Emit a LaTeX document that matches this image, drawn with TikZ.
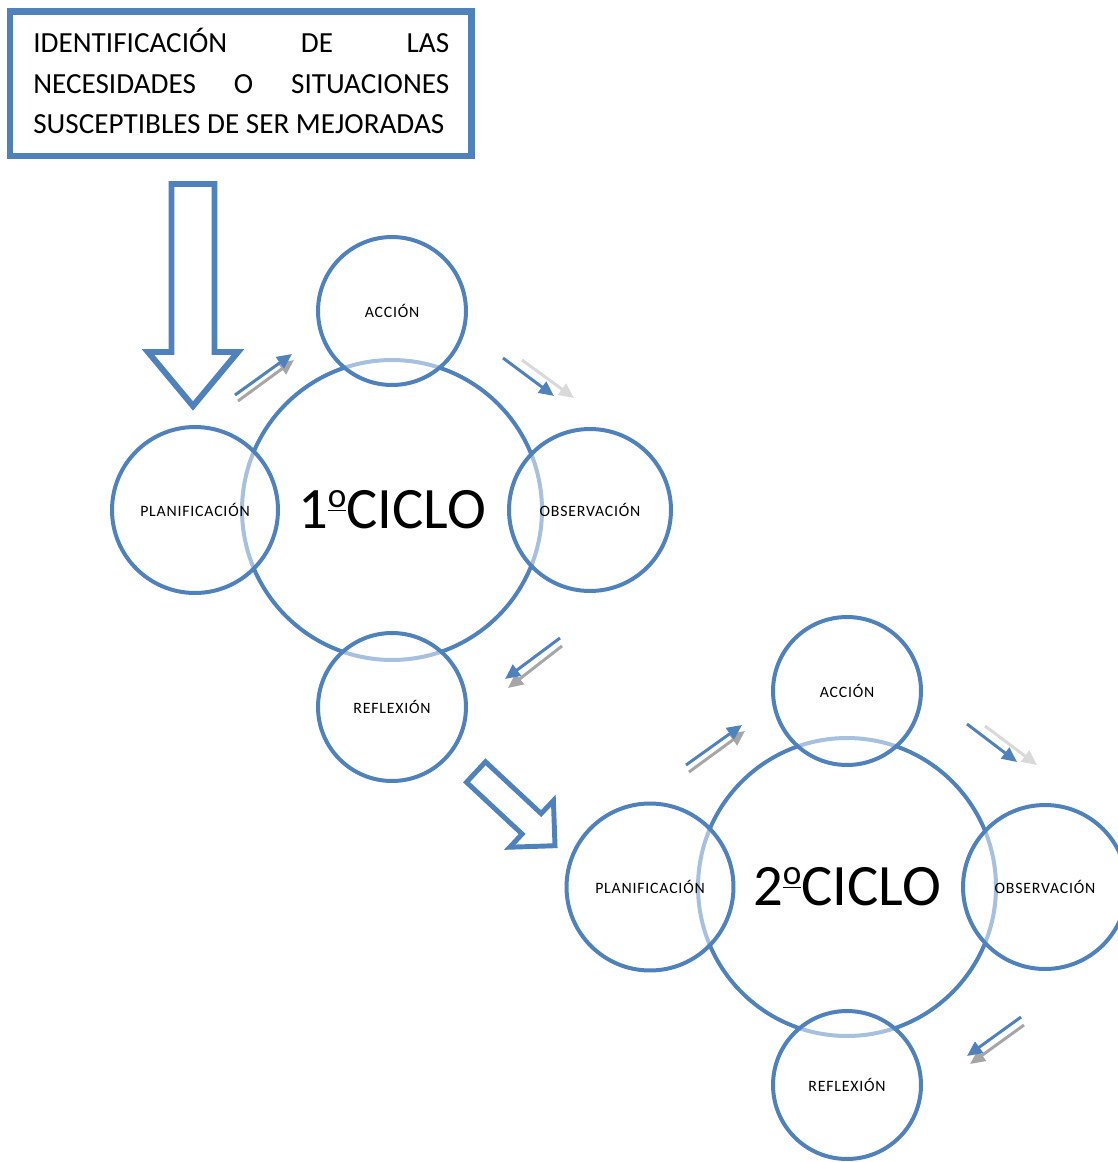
\documentclass[tikz,border=0pt]{standalone}
\usepackage{fontspec}
\setmainfont{Carlito}
\newfontfamily\satfont[LetterSpace=5]{Carlito}
\usetikzlibrary{arrows.meta}
\definecolor{cblue}{HTML}{4F81BD}
\definecolor{gdark}{HTML}{A6A6A6}
\definecolor{glight}{HTML}{D9D9D9}
\newcommand{\ordo}{\raisebox{0.36em}{\fontsize{20}{20}\selectfont\underline{o}}}
\tikzset{
  hub/.style={circle, draw=cblue, line width=2.27pt, inner sep=0pt, minimum size=6cm,
    font=\fontsize{33.4}{36}\selectfont},
  sat/.style={circle, draw=cblue, line width=2.27pt, inner sep=0pt, fill=white,
    fill opacity=0.5, text opacity=1, font=\satfont\fontsize{9}{10}\selectfont},
  blockarrow/.style={draw=cblue, fill=white, line join=miter},
  barrow/.style={draw=cblue, line width=1.7pt, -{Triangle[length=0.3cm,width=0.27cm]}},
  darrow/.style={draw=gdark, line width=1.7pt, -{Triangle[length=0.3cm,width=0.27cm]}},
  larrow/.style={draw=glight, line width=1.7pt, -{Triangle[length=0.3cm,width=0.27cm]}},
  boxtext/.style={anchor=base west, inner sep=0pt, font=\fontsize{16.6}{23}\selectfont}
}
\begin{document}
\begin{tikzpicture}[x=0.02cm,y=-0.02cm]
\useasboundingbox (0,0) rectangle (1118,1162);
\clip (0,0) rectangle (1118,1162);
\fill[white] (0,0) rectangle (1118,1162);

% top box
\node[draw=cblue, line width=3.5pt, minimum width=9.23cm, minimum height=2.89cm, inner sep=0pt] (box) at (240.75,83.75) {};
\node[boxtext] (t1) at (33,53) {\makebox[8.32cm][s]{IDENTIFICACIÓN DE LAS}};
\node[boxtext] (t2) at (33,94) {\makebox[8.32cm][s]{NECESIDADES O SITUACIONES}};
\node[boxtext] (t3) at (33,134) {SUSCEPTIBLES DE SER MEJORADAS};

% down block arrow
\draw[blockarrow, line width=3.4pt] (171.5,184) -- (214.5,184) -- (214.5,352) -- (238,352) -- (193,406) -- (148,352) -- (171.5,352) -- cycle;

% cycle 1
\node[hub] (c1) at (392,510) {1\ordo CICLO};
\node[sat, minimum size=2.96cm] (c1a) at (392,311) {ACCIÓN};
\node[sat, minimum size=3.32cm] (c1p) at (195,510) {PLANIFICACIÓN};
\node[sat, minimum size=3.24cm] (c1o) at (590,510) {OBSERVACIÓN};
\node[sat, minimum size=2.96cm] (c1r) at (392,707) {REFLEXIÓN};

\draw[darrow] (238,401) -- (294,360);
\draw[barrow] (235,395) -- (292,354);
\draw[larrow] (522,360) -- (574,398);
\draw[barrow] (503,358) -- (554,396);
\draw[darrow] (562,646) -- (508,688);
\draw[barrow] (560,638) -- (505,679);

% diagonal block arrow
\draw[blockarrow, line width=2.8pt] (466.5,782.2) -- (485.5,761.8) -- (541.1,813.6) -- (553.4,800.6) -- (555,845.7) -- (509.8,847.2) -- (522.1,834.0) -- cycle;

% cycle 2
\node[hub, minimum size=5.96cm] (c2) at (847,887) {2\ordo CICLO};
\node[sat, minimum size=2.96cm] (c2a) at (847,691) {ACCIÓN};
\node[sat, minimum size=3.34cm] (c2p) at (650,887) {PLANIFICACIÓN};
\node[sat, minimum size=3.28cm] (c2o) at (1045,887) {OBSERVACIÓN};
\node[sat, minimum size=2.96cm] (c2r) at (847,1085) {REFLEXIÓN};

\draw[darrow] (689,772) -- (745,731);
\draw[barrow] (686,765) -- (742,725);
\draw[larrow] (985,726) -- (1037,765);
\draw[barrow] (967,724) -- (1017,762);
\draw[darrow] (1024,1025) -- (970,1064);
\draw[barrow] (1021,1017) -- (967,1056);
\end{tikzpicture}
\end{document}
